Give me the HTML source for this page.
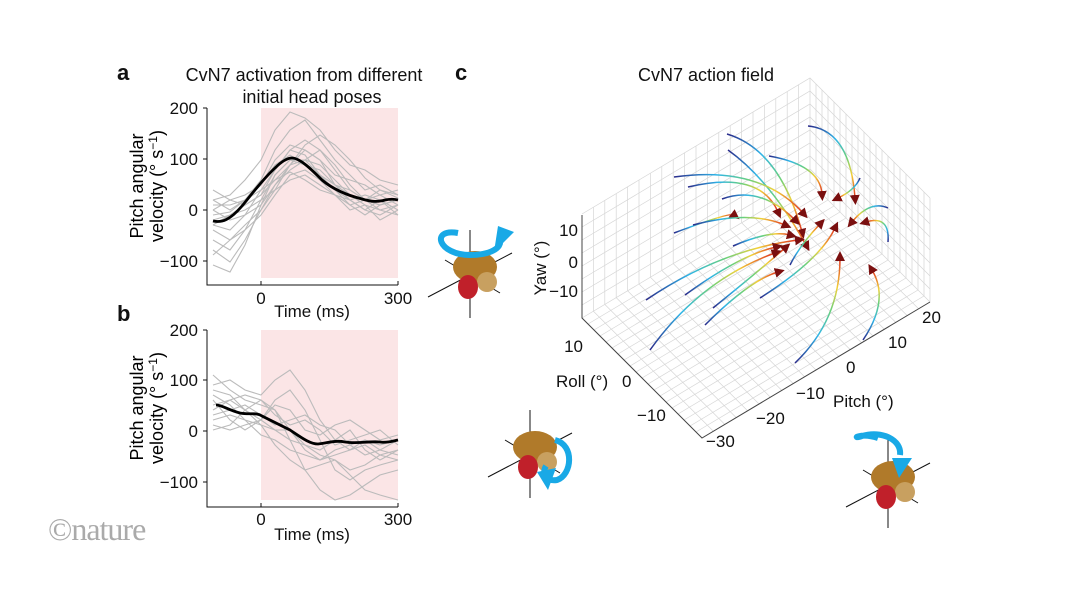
<!DOCTYPE html><html><head><meta charset="utf-8"><style>
body{margin:0;background:#fff;width:1066px;height:600px;overflow:hidden}
svg{display:block;font-family:"Liberation Sans",sans-serif}
</style></head><body>
<svg width="1066" height="600" viewBox="0 0 1066 600">
<defs>
<marker id="ar" viewBox="0 0 10 10" refX="3" refY="5" markerWidth="10" markerHeight="10" markerUnits="userSpaceOnUse" orient="auto"><path d="M0,0L10,5L0,10z" fill="#7a0f0f"/></marker>
<g id="stops"></g>
<linearGradient id="g1" gradientUnits="userSpaceOnUse" x1="727" y1="134" x2="802" y2="232"><stop offset="0" stop-color="#2a2a8a"/><stop offset=".3" stop-color="#2fb5e8"/><stop offset=".55" stop-color="#6bd07a"/><stop offset=".75" stop-color="#f2d13a"/><stop offset="1" stop-color="#e0301e"/></linearGradient>
<linearGradient id="g2" href="#g1" x1="728" y1="150" x2="806" y2="245"/>
<linearGradient id="g3" href="#g1" x1="808" y1="126" x2="855" y2="198"/>
<linearGradient id="g4" href="#g1" x1="769" y1="156" x2="822" y2="194"/>
<linearGradient id="g5" href="#g1" x1="674" y1="177" x2="803" y2="213"/>
<linearGradient id="g6" href="#g1" x1="688" y1="187" x2="778" y2="212"/>
<linearGradient id="g7" href="#g1" x1="722" y1="199" x2="795" y2="220"/>
<linearGradient id="g8" href="#g1" x1="674" y1="233" x2="734" y2="215"/>
<linearGradient id="g9" href="#g1" x1="693" y1="225" x2="785" y2="225"/>
<linearGradient id="g10" href="#g1" x1="733" y1="246" x2="790" y2="235"/>
<linearGradient id="g11" href="#g1" x1="646" y1="300" x2="798" y2="240"/>
<linearGradient id="g12" href="#g1" x1="685" y1="295" x2="776" y2="247"/>
<linearGradient id="g13" href="#g1" x1="713" y1="308" x2="785" y2="248"/>
<linearGradient id="g14" href="#g1" x1="650" y1="350" x2="775" y2="253"/>
<linearGradient id="g15" href="#g1" x1="705" y1="325" x2="778" y2="272"/>
<linearGradient id="g16" href="#g1" x1="760" y1="298" x2="835" y2="228"/>
<linearGradient id="g17" href="#g1" x1="795" y1="363" x2="840" y2="258"/>
<linearGradient id="g18" href="#g1" x1="863" y1="340" x2="872" y2="270"/>
<linearGradient id="g19" href="#g1" x1="888" y1="242" x2="866" y2="222"/>
<linearGradient id="g20" href="#g1" x1="888" y1="208" x2="852" y2="222"/>
<linearGradient id="g21" href="#g1" x1="860" y1="178" x2="838" y2="198"/>
<linearGradient id="g22" href="#g1" x1="790" y1="265" x2="820" y2="224"/>
</defs>
<g font-size="18" fill="#111">
<text x="117" y="80" font-weight="bold" font-size="22">a</text>
<text x="117" y="321" font-weight="bold" font-size="22">b</text>
<text x="455" y="80" font-weight="bold" font-size="22">c</text>
<text x="304" y="81" text-anchor="middle">CvN7 activation from different</text>
<text x="312" y="103" text-anchor="middle">initial head poses</text>
<text x="706" y="81" text-anchor="middle">CvN7 action field</text>
</g>
<!-- panel a -->
<rect x="261" y="108" width="137" height="170" fill="#fbe5e6"/>
<g fill="none" stroke="#bbb" stroke-width="1.1">
<polyline points="213,200 230,195 245,180 261,160 275,130 290,112 305,118 320,130 335,150 350,165 365,170 380,180 398,185"/>
<polyline points="213,215 230,212 245,200 261,180 275,150 290,130 305,120 320,140 335,160 350,175 365,190 380,185 398,195"/>
<polyline points="213,225 230,230 245,215 261,190 275,170 290,150 305,140 320,150 335,170 350,190 365,200 380,195 398,205"/>
<polyline points="213,205 230,205 245,200 261,185 275,160 290,145 305,150 320,160 335,175 350,180 365,185 380,195 398,190"/>
<polyline points="213,240 230,250 245,230 261,200 275,175 290,160 305,165 320,170 335,185 350,200 365,210 380,200 398,215"/>
<polyline points="213,210 230,220 245,215 261,205 275,185 290,170 305,160 320,165 335,180 350,195 365,200 380,205 398,200"/>
<polyline points="213,250 230,262 245,240 261,210 275,185 290,165 305,150 320,160 335,185 350,195 365,205 380,210 398,215"/>
<polyline points="213,190 230,200 245,205 261,195 275,170 290,150 305,155 320,175 335,190 350,200 365,195 380,200 398,210"/>
<polyline points="213,220 230,215 245,205 261,195 275,180 290,165 305,160 320,150 335,165 350,185 365,200 380,205 398,200"/>
<polyline points="213,230 230,240 245,230 261,215 275,195 290,175 305,170 320,180 335,195 350,200 365,210 380,215 398,205"/>
<polyline points="213,200 230,210 245,200 261,190 275,180 290,172 305,180 320,190 335,195 350,205 365,215 380,205 398,200"/>
<polyline points="213,265 230,272 245,245 261,205 275,175 290,160 305,160 320,175 335,190 350,205 365,200 380,210 398,205"/>
<polyline points="213,210 230,200 245,195 261,185 275,165 290,155 305,165 320,175 335,185 350,190 365,200 380,190 398,195"/>
<polyline points="213,225 230,215 245,210 261,200 275,190 290,180 305,175 320,185 335,195 350,210 365,205 380,220 398,210"/>
<polyline points="213,255 230,240 245,225 261,210 275,190 290,165 305,145 320,135 335,145 350,160 365,178 380,190 398,198"/>
</g>
<path d="M213,221 C222,223 230,220 242,206 C252,194 262,180 275,168 C283,160 288,158 292,158 C300,158 312,170 322,180 C335,191 350,196 362,199 C372,202 378,202 385,200 C390,199 394,199 398,200" fill="none" stroke="#000" stroke-width="2.8"/>
<path d="M207,108V285H398" fill="none" stroke="#111"/>
<g stroke="#111"><line x1="203" y1="108" x2="207" y2="108"/><line x1="203" y1="159" x2="207" y2="159"/><line x1="203" y1="210" x2="207" y2="210"/><line x1="203" y1="261" x2="207" y2="261"/><line x1="261" y1="285" x2="261" y2="281"/><line x1="398" y1="285" x2="398" y2="281"/></g>
<g font-size="17" fill="#111" text-anchor="end">
<text x="198" y="114">200</text><text x="198" y="165">100</text><text x="198" y="216">0</text><text x="198" y="267">−100</text></g>
<g font-size="17" fill="#111" text-anchor="middle"><text x="261" y="304">0</text><text x="398" y="304">300</text><text x="312" y="317">Time (ms)</text></g>
<text transform="translate(143,186) rotate(-90)" font-size="18" text-anchor="middle">Pitch angular</text>
<text transform="translate(163,186) rotate(-90)" font-size="18" text-anchor="middle">velocity (° s<tspan dy="-6" font-size="12">−1</tspan><tspan dy="6">)</tspan></text>
<!-- panel b -->
<rect x="261" y="330" width="137" height="170" fill="#fbe5e6"/>
<g fill="none" stroke="#bbb" stroke-width="1.1">
<polyline points="213,375 230,390 245,400 261,405 275,410 290,430 305,450 320,460 335,455 350,450 365,440 380,445 398,440"/>
<polyline points="213,390 230,395 245,410 261,420 275,430 290,440 305,445 320,455 335,460 350,470 365,465 380,455 398,460"/>
<polyline points="213,410 230,400 245,395 261,400 275,415 290,425 305,420 320,430 335,445 350,440 365,435 380,430 398,445"/>
<polyline points="213,420 230,415 245,420 261,425 275,430 290,430 305,445 320,450 335,440 350,430 365,450 380,460 398,450"/>
<polyline points="213,400 230,420 245,430 261,420 275,400 290,390 305,410 320,440 335,470 350,480 365,470 380,465 398,460"/>
<polyline points="213,385 230,380 245,390 261,395 275,380 290,370 305,390 320,420 335,440 350,450 365,445 380,455 398,450"/>
<polyline points="213,430 230,425 245,410 261,400 275,410 290,440 305,470 320,490 335,500 350,495 365,485 380,475 398,470"/>
<polyline points="213,415 230,410 245,405 261,415 275,425 290,420 305,415 320,425 335,430 350,445 365,455 380,450 398,455"/>
<polyline points="213,395 230,405 245,420 261,435 275,440 290,450 305,455 320,460 335,450 350,445 365,440 380,450 398,440"/>
<polyline points="213,425 230,430 245,425 261,420 275,405 290,410 305,430 320,435 335,425 350,420 365,430 380,440 398,435"/>
<polyline points="213,405 230,400 245,410 261,425 275,445 290,460 305,470 320,465 335,460 350,475 365,490 380,495 398,500"/>
</g>
<path d="M216,405 C222,405 228,410 240,413 C250,415 256,412 262,416 C270,420 278,424 290,430 C302,438 310,444 318,444 C328,443 335,440 345,442 C358,444 368,441 380,442 C388,443 393,441 398,440" fill="none" stroke="#000" stroke-width="2.8"/>
<path d="M207,330V507H398" fill="none" stroke="#111"/>
<g stroke="#111"><line x1="203" y1="330" x2="207" y2="330"/><line x1="203" y1="380" x2="207" y2="380"/><line x1="203" y1="431" x2="207" y2="431"/><line x1="203" y1="482" x2="207" y2="482"/><line x1="261" y1="507" x2="261" y2="503"/><line x1="398" y1="507" x2="398" y2="503"/></g>
<g font-size="17" fill="#111" text-anchor="end">
<text x="198" y="336">200</text><text x="198" y="386">100</text><text x="198" y="437">0</text><text x="198" y="488">−100</text></g>
<g font-size="17" fill="#111" text-anchor="middle"><text x="261" y="525">0</text><text x="398" y="525">300</text><text x="312" y="540">Time (ms)</text></g>
<text transform="translate(143,408) rotate(-90)" font-size="18" text-anchor="middle">Pitch angular</text>
<text transform="translate(163,408) rotate(-90)" font-size="18" text-anchor="middle">velocity (° s<tspan dy="-6" font-size="12">−1</tspan><tspan dy="6">)</tspan></text>
<text x="48" y="540" font-family="Liberation Serif,serif" font-size="32" fill="#aaa" letter-spacing="-1">©nature</text>
<!-- panel c grid -->
<g fill="none" stroke="#d6d6d6" stroke-width="0.7">
<path d="M582,318l228,-136M588,324l228,-136M594,330l228,-136M600,336l228,-136M606,342l228,-136M612,348l228,-136M618,354l228,-136M624,360l228,-136M630,366l228,-136M636,372l228,-136M642,378l228,-136M648,384l228,-136M654,390l228,-136M660,396l228,-136M666,402l228,-136M672,408l228,-136M678,414l228,-136M684,420l228,-136M690,426l228,-136M696,432l228,-136M702,438l228,-136"/>
<path d="M582,318l120,120M593.4,311.2l120,120M604.8,304.4l120,120M616.2,297.6l120,120M627.6,290.8l120,120M639,284l120,120M650.4,277.2l120,120M661.8,270.4l120,120M673.2,263.6l120,120M684.6,256.8l120,120M696,250l120,120M707.4,243.2l120,120M718.8,236.4l120,120M730.2,229.6l120,120M741.6,222.8l120,120M753,216l120,120M764.4,209.2l120,120M775.8,202.4l120,120M787.2,195.6l120,120M798.6,188.8l120,120M810,182l120,120"/>
<path d="M593.4,311.2v-104M604.8,304.4v-104M616.2,297.6v-104M627.6,290.8v-104M639,284v-104M650.4,277.2v-104M661.8,270.4v-104M673.2,263.6v-104M684.6,256.8v-104M696,250v-104M707.4,243.2v-104M718.8,236.4v-104M730.2,229.6v-104M741.6,222.8v-104M753,216v-104M764.4,209.2v-104M775.8,202.4v-104M787.2,195.6v-104M798.6,188.8v-104M810,182v-104"/>
<path d="M816,188v-104M822,194v-104M828,200v-104M834,206v-104M840,212v-104M846,218v-104M852,224v-104M858,230v-104M864,236v-104M870,242v-104M876,248v-104M882,254v-104M888,260v-104M894,266v-104M900,272v-104M906,278v-104M912,284v-104M918,290v-104M924,296v-104M930,302v-104"/>
<path d="M582,305L810,169L930,289M582,292L810,156L930,276M582,279L810,143L930,263M582,266L810,130L930,250M582,253L810,117L930,237M582,240L810,104L930,224M582,227L810,91L930,211M582,214L810,78L930,198"/>
</g>
<!-- trajectories -->
<g fill="none" stroke-width="1.5" marker-end="url(#ar)">
<path stroke="url(#g1)" d="M727,134Q780,150 802,232"/>
<path stroke="url(#g2)" d="M728,150Q770,180 806,245"/>
<path stroke="url(#g3)" d="M808,126Q850,130 855,198"/>
<path stroke="url(#g4)" d="M769,156Q820,165 822,194"/>
<path stroke="url(#g5)" d="M674,177Q760,165 803,213"/>
<path stroke="url(#g6)" d="M688,187Q760,170 778,212"/>
<path stroke="url(#g7)" d="M722,199Q760,185 795,220"/>
<path stroke="url(#g8)" d="M674,233Q730,212 734,215"/>
<path stroke="url(#g9)" d="M693,225Q750,210 785,225"/>
<path stroke="url(#g10)" d="M733,246Q770,230 790,235"/>
<path stroke="url(#g11)" d="M646,300Q720,250 798,240"/>
<path stroke="url(#g12)" d="M685,295Q740,255 776,247"/>
<path stroke="url(#g13)" d="M713,308Q760,270 785,248"/>
<path stroke="url(#g14)" d="M650,350Q700,280 775,253"/>
<path stroke="url(#g15)" d="M705,325Q750,280 778,272"/>
<path stroke="url(#g16)" d="M760,298Q820,260 835,228"/>
<path stroke="url(#g17)" d="M795,363Q840,320 840,258"/>
<path stroke="url(#g18)" d="M863,340Q890,300 872,270"/>
<path stroke="url(#g19)" d="M888,242Q890,215 866,222"/>
<path stroke="url(#g20)" d="M888,208Q870,200 852,222"/>
<path stroke="url(#g21)" d="M860,178Q855,190 838,198"/>
<path stroke="url(#g22)" d="M790,265Q800,245 820,224"/>
</g>
<path d="M582,215V318L702,438L930,302" fill="none" stroke="#444"/>
<g font-size="17" fill="#111">
<text x="578" y="236" text-anchor="end">10</text><text x="578" y="268" text-anchor="end">0</text><text x="578" y="297" text-anchor="end">−10</text>
<text transform="translate(546,268) rotate(-90)" text-anchor="middle">Yaw (°)</text>
<text x="583" y="352" text-anchor="end">10</text><text x="622" y="387">0</text><text x="637" y="421">−10</text><text x="706" y="447">−30</text><text x="756" y="424">−20</text>
<text x="796" y="399">−10</text><text x="846" y="373">0</text><text x="888" y="348">10</text><text x="922" y="323">20</text>
<text x="556" y="387">Roll (°)</text><text x="833" y="407">Pitch (°)</text></g>
<!-- heads -->
<g stroke="#111" stroke-width="1">
<line x1="470" y1="230" x2="470" y2="318"/><line x1="428" y1="297" x2="512" y2="253"/><line x1="445" y1="260" x2="500" y2="293"/>
<line x1="530" y1="410" x2="530" y2="498"/><line x1="488" y1="477" x2="572" y2="433"/><line x1="505" y1="440" x2="560" y2="473"/>
<line x1="888" y1="440" x2="888" y2="528"/><line x1="846" y1="507" x2="930" y2="463"/><line x1="863" y1="470" x2="918" y2="503"/>
</g>
<g>
<ellipse cx="475" cy="267" rx="22" ry="16" fill="#b07a2a"/><ellipse cx="487" cy="282" rx="10" ry="10" fill="#c8a060"/><ellipse cx="468" cy="287" rx="10" ry="12" fill="#c0202a"/>
<ellipse cx="535" cy="447" rx="22" ry="16" fill="#b07a2a"/><ellipse cx="547" cy="462" rx="10" ry="10" fill="#c8a060"/><ellipse cx="528" cy="467" rx="10" ry="12" fill="#c0202a"/>
<ellipse cx="893" cy="477" rx="22" ry="16" fill="#b07a2a"/><ellipse cx="905" cy="492" rx="10" ry="10" fill="#c8a060"/><ellipse cx="886" cy="497" rx="10" ry="12" fill="#c0202a"/>
</g>
<g fill="none" stroke="#19a9e6" stroke-width="6">
<path d="M458,233 C430,228 438,255 470,255 C490,255 502,248 500,240"/>
<path d="M555,440 C575,445 572,475 557,480 C545,482 542,472 546,466"/>
<path d="M878,438 C860,432 850,440 862,436 C882,430 902,440 900,455"/>
</g>
<g fill="#19a9e6"><path d="M494,252L514,232L498,226z"/><path d="M537,472L548,490L556,468z"/><path d="M892,458L912,458L899,478z"/></g>
</svg></body></html>
